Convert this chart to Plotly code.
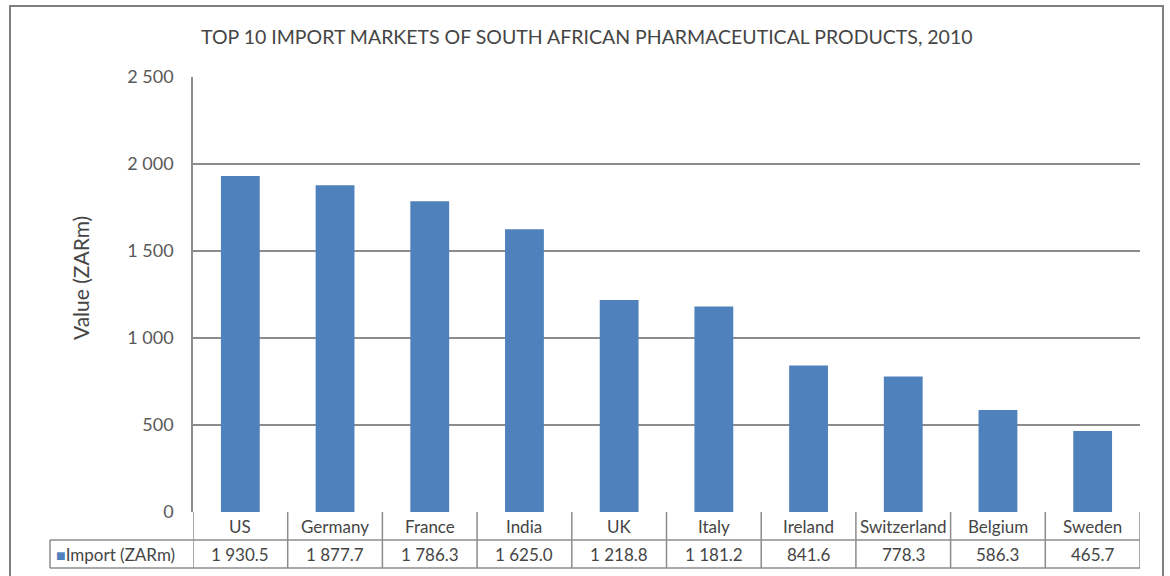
import plotly.graph_objects as go

categories = ["US", "Germany", "France", "India", "UK", "Italy", "Ireland", "Switzerland", "Belgium", "Sweden"]
values = [1930.5, 1877.7, 1786.3, 1625.0, 1218.8, 1181.2, 841.6, 778.3, 586.3, 465.7]
value_labels = ["1 930.5", "1 877.7", "1 786.3", "1 625.0", "1 218.8", "1 181.2", "841.6", "778.3", "586.3", "465.7"]
y_ticks = [0, 500, 1000, 1500, 2000, 2500]
y_tick_labels = ["0", "500", "1 000", "1 500", "2 000", "2 500"]
series_name = "Import (ZARm)"
title = "TOP 10 IMPORT MARKETS OF SOUTH AFRICAN PHARMACEUTICAL PRODUCTS, 2010"

W, H = 1170, 576
L, R, T, B = 193, 30, 77, 64
pw, ph = W - L - R, H - T - B
BAR = "#4F81BD"
GRID = "#8C8C8C"
TXT = "#454545"
FONT = "Lato"

def px_x(x):
    return (x - L) / pw

def px_y(y):
    return (H - B - y) / ph

xs = list(range(len(categories)))
fig = go.Figure(go.Bar(x=xs, y=values, marker=dict(color=BAR, line=dict(width=0)),
                       width=0.41, name=series_name, showlegend=False))

shapes = []
annotations = []
# outer border
shapes.append(dict(type="rect", xref="paper", yref="paper", x0=px_x(10), x1=px_x(1163),
                   y0=px_y(585), y1=px_y(6), line=dict(color="#7F7F7F", width=2), layer="below"))
# table lines
row1_top, row_mid, row_bot = px_y(512), px_y(540), px_y(568)
lc = dict(color=GRID, width=1.5)
shapes.append(dict(type="line", xref="paper", yref="paper", x0=px_x(50), x1=1, y0=row_mid, y1=row_mid, line=lc))
shapes.append(dict(type="line", xref="paper", yref="paper", x0=px_x(50), x1=1, y0=row_bot, y1=row_bot, line=lc))
shapes.append(dict(type="line", xref="paper", yref="paper", x0=px_x(50), x1=px_x(50), y0=row_bot, y1=row_mid, line=lc))
for i in range(len(categories) + 1):
    shapes.append(dict(type="line", xref="x", yref="paper", x0=i - 0.5, x1=i - 0.5,
                       y0=row_bot, y1=row1_top, line=lc))
cell_font = dict(family=FONT, size=17, color=TXT)
for i, (c, v) in enumerate(zip(categories, value_labels)):
    annotations.append(dict(x=i, y=(row1_top + row_mid) / 2, xref="x", yref="paper", text=c,
                            showarrow=False, xanchor="center", yanchor="middle", font=cell_font))
    annotations.append(dict(x=i, y=(row_mid + row_bot) / 2, xref="x", yref="paper", text=v,
                            showarrow=False, xanchor="center", yanchor="middle", font=cell_font))
# legend cell
annotations.append(dict(x=px_x(54), y=(row_mid + row_bot) / 2, xref="paper", yref="paper",
                        text="<span style='color:%s;font-size:16px'>■</span>%s" % (BAR, series_name),
                        showarrow=False, xanchor="left", yanchor="middle", font=cell_font))
# title
annotations.append(dict(x=px_x(587), y=px_y(37), xref="paper", yref="paper", text=title,
                        showarrow=False, xanchor="center", yanchor="middle",
                        font=dict(family=FONT, size=19.5, color=TXT)))
# y axis title
annotations.append(dict(x=px_x(80), y=px_y(278), xref="paper", yref="paper", text="Value (ZARm)",
                        showarrow=False, textangle=-90, xanchor="center", yanchor="middle",
                        font=dict(family=FONT, size=21, color=TXT)))

fig.update_layout(
    width=W, height=H, margin=dict(l=L, r=R, t=T, b=B),
    paper_bgcolor="white", plot_bgcolor="white",
    shapes=shapes, annotations=annotations, bargap=0.59,
    xaxis=dict(range=[-0.5, len(categories) - 0.5], showticklabels=False, showgrid=False,
               zeroline=False, showline=False, ticks=""),
    yaxis=dict(range=[0, 2500], tickvals=y_ticks, ticktext=y_tick_labels, showgrid=True,
               gridcolor=GRID, gridwidth=1.5, zeroline=False, showline=True, linecolor=GRID,
               linewidth=1.5, ticks="", ticklen=0, tickfont=dict(family=FONT, size=18, color="#595959")),
)
fig.update_yaxes(ticklabelstandoff=14)
fig.write_html("out.html")
